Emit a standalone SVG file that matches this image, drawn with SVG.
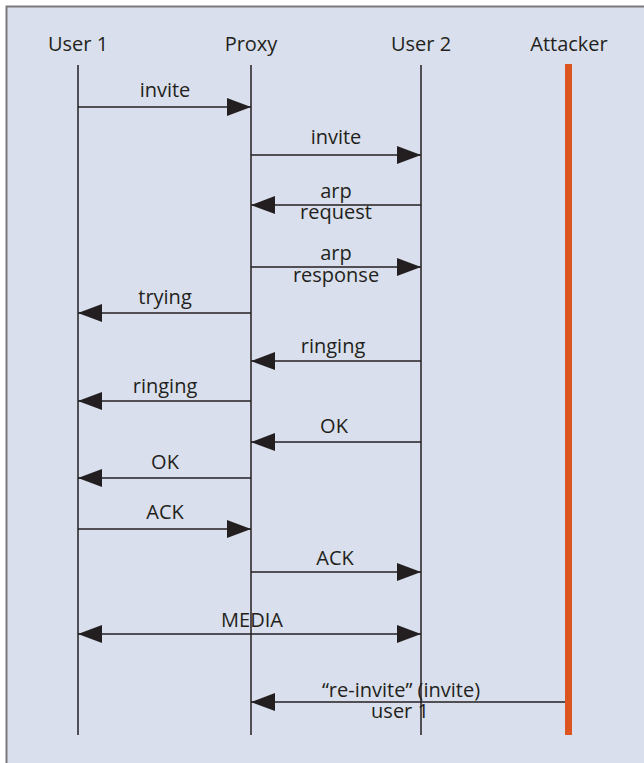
<svg xmlns="http://www.w3.org/2000/svg" width="644" height="763" viewBox="0 0 644 763">
<defs>
<style>
.t{font-family:"Open Sans","Noto Sans","Liberation Sans",sans-serif;font-size:20px;fill:#231f20;text-anchor:middle}
.life{stroke:#231f20;stroke-width:1.5;fill:none}
.msg{stroke:#231f20;stroke-width:1.5;fill:none;marker-end:url(#ah)}
</style>
<marker id="ah" viewBox="0 0 24 18" refX="24" refY="9" markerWidth="24" markerHeight="18" markerUnits="userSpaceOnUse" orient="auto-start-reverse">
<path d="M0,0 L24,9 L0,18 Z" fill="#231f20"/>
</marker>
</defs>
<rect x="0" y="0" width="644" height="763" fill="#ffffff"/>
<rect x="6" y="6" width="640" height="760" fill="#d9dfec"/>
<path d="M6.5,763 V6.5 H644" stroke="#7a7a7a" stroke-width="2" fill="none"/>

<g id="user1">
<text class="t" x="78" y="51">User 1</text>
<line class="life" x1="78" y1="65" x2="78" y2="735"/>
</g>
<g id="proxy">
<text class="t" x="251" y="51">Proxy</text>
<line class="life" x1="251" y1="65" x2="251" y2="735"/>
</g>
<g id="user2">
<text class="t" x="421" y="51">User 2</text>
<line class="life" x1="421" y1="65" x2="421" y2="735"/>
</g>
<g id="attacker">
<text class="t" x="569" y="51">Attacker</text>
<line x1="568.5" y1="64" x2="568.5" y2="735" stroke="#dc5420" stroke-width="7"/>
</g>

<g id="connectors">
<line class="msg" x1="78" y1="107" x2="251" y2="107"/>
<text class="t" x="165" y="97">invite</text>

<line class="msg" x1="251" y1="155" x2="421" y2="155"/>
<text class="t" x="336" y="144">invite</text>

<line class="msg" x1="421" y1="205" x2="251" y2="205"/>
<text class="t" x="336" y="198">arp</text>
<text class="t" x="336" y="219">request</text>

<line class="msg" x1="251" y1="267" x2="421" y2="267"/>
<text class="t" x="336" y="260">arp</text>
<text class="t" x="336" y="282">response</text>

<line class="msg" x1="251" y1="313" x2="78" y2="313"/>
<text class="t" x="165" y="304">trying</text>

<line class="msg" x1="421" y1="361" x2="251" y2="361"/>
<text class="t" x="333" y="353">ringing</text>

<line class="msg" x1="251" y1="401" x2="78" y2="401"/>
<text class="t" x="165" y="393">ringing</text>

<line class="msg" x1="421" y1="442" x2="251" y2="442"/>
<text class="t" x="334" y="433">OK</text>

<line class="msg" x1="251" y1="478" x2="78" y2="478"/>
<text class="t" x="165" y="469">OK</text>

<line class="msg" x1="78" y1="529" x2="251" y2="529"/>
<text class="t" x="165" y="519">ACK</text>

<line class="msg" x1="251" y1="572" x2="421" y2="572"/>
<text class="t" x="335" y="565">ACK</text>

<line class="msg" x1="78" y1="634" x2="421" y2="634" style="marker-start:url(#ah)"/>
<text class="t" x="252" y="627">MEDIA</text>

<line class="msg" x1="565" y1="702" x2="251" y2="702"/>
<text class="t" x="401" y="697">“re-invite” (invite)</text>
<text class="t" x="400" y="718">user 1</text>
</g>
</svg>
